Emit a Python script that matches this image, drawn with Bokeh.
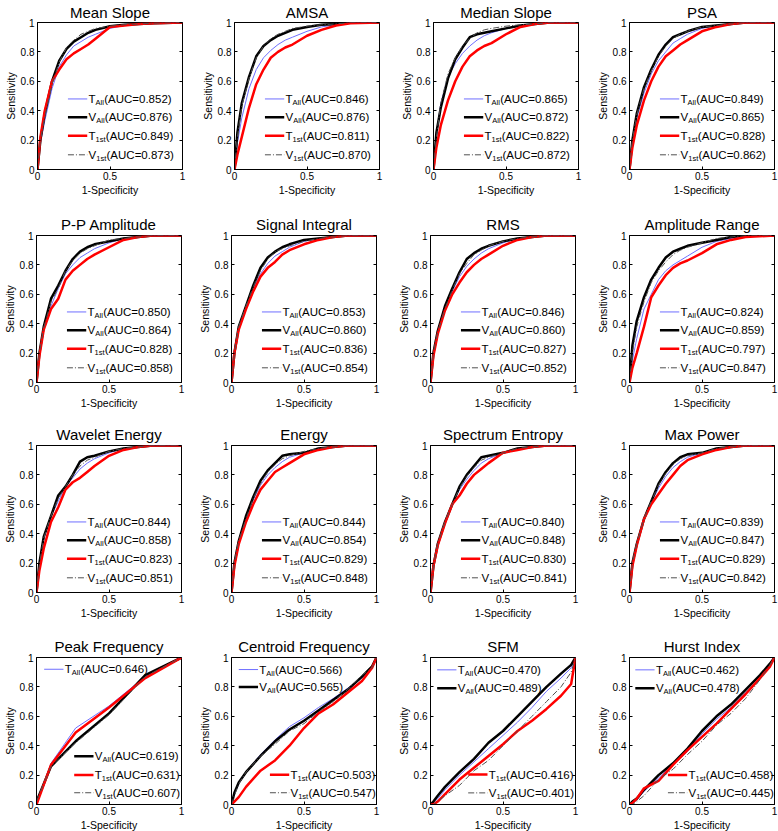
from bokeh.plotting import figure
from bokeh.layouts import row, column
from bokeh.models import (Range1d, FixedTicker, CustomJSTickFormatter, LinearAxis,
                          ColumnDataSource)
from bokeh.core.properties import value
from bokeh.embed import file_html
from bokeh.resources import INLINE

# ---------------- data ----------------
TITLES = ["Mean Slope", "AMSA", "Median Slope", "PSA",
          "P-P Amplitude", "Signal Integral", "RMS", "Amplitude Range",
          "Wavelet Energy", "Energy", "Spectrum Entropy", "Max Power",
          "Peak Frequency", "Centroid Frequency", "SFM", "Hurst Index"]

# 1-Specificity sample points
FPR_MAIN = [0, 0.02, 0.05, 0.1, 0.15, 0.2, 0.25, 0.3, 0.35, 0.4, 0.5, 0.6, 0.7, 0.8, 1.0]
FPR_PEAK = [0, 0.1, 0.27, 0.5, 0.75, 1.0]
FPR_LOW = [0, 0.02, 0.05, 0.1, 0.2, 0.3, 0.4, 0.5, 0.6, 0.7, 0.8, 0.9, 0.97, 1.0]

# Sensitivity values
mean_slope_t_all = [0, 0.18, 0.33, 0.55, 0.70, 0.78, 0.84, 0.87, 0.90, 0.92, 0.96, 0.98, 0.99, 0.995, 1]
mean_slope_v_all = [0, 0.20, 0.38, 0.60, 0.74, 0.82, 0.87, 0.90, 0.93, 0.95, 0.975, 0.985, 0.99, 0.995, 1]
mean_slope_t_1st = [0, 0.22, 0.40, 0.60, 0.68, 0.75, 0.79, 0.82, 0.85, 0.89, 0.97, 0.98, 0.99, 0.995, 1]
mean_slope_v_1st = [0, 0.20, 0.36, 0.58, 0.73, 0.83, 0.88, 0.92, 0.94, 0.96, 0.975, 0.985, 0.99, 0.995, 1]

amsa_t_all = [0, 0.18, 0.35, 0.55, 0.68, 0.76, 0.81, 0.85, 0.88, 0.90, 0.94, 0.97, 0.985, 1, 1]
amsa_v_all = [0, 0.25, 0.45, 0.63, 0.77, 0.84, 0.88, 0.91, 0.93, 0.95, 0.97, 0.985, 0.99, 1, 1]
amsa_t_1st = [0, 0.10, 0.22, 0.42, 0.58, 0.68, 0.76, 0.80, 0.83, 0.85, 0.91, 0.95, 0.98, 0.995, 1]
amsa_v_1st = [0, 0.22, 0.43, 0.62, 0.76, 0.84, 0.89, 0.92, 0.94, 0.96, 0.975, 0.985, 0.99, 1, 1]

median_slope_t_all = [0, 0.22, 0.45, 0.63, 0.72, 0.79, 0.84, 0.88, 0.91, 0.93, 0.96, 0.98, 0.99, 1, 1]
median_slope_v_all = [0, 0.25, 0.42, 0.62, 0.75, 0.83, 0.90, 0.92, 0.93, 0.94, 0.96, 0.98, 0.99, 1, 1]
median_slope_t_1st = [0, 0.15, 0.30, 0.47, 0.60, 0.70, 0.77, 0.81, 0.84, 0.86, 0.92, 0.97, 0.99, 1, 1]
median_slope_v_1st = [0, 0.22, 0.45, 0.65, 0.76, 0.84, 0.89, 0.93, 0.95, 0.96, 0.975, 0.985, 0.99, 1, 1]

psa_t_all = [0, 0.18, 0.35, 0.52, 0.65, 0.74, 0.80, 0.86, 0.89, 0.92, 0.96, 0.98, 0.99, 1, 1]
psa_v_all = [0, 0.20, 0.38, 0.56, 0.68, 0.78, 0.85, 0.90, 0.92, 0.94, 0.97, 0.98, 0.99, 1, 1]
psa_t_1st = [0, 0.15, 0.30, 0.47, 0.60, 0.70, 0.77, 0.81, 0.85, 0.88, 0.94, 0.97, 0.99, 1, 1]
psa_v_1st = [0, 0.20, 0.37, 0.55, 0.67, 0.77, 0.84, 0.89, 0.92, 0.94, 0.97, 0.98, 0.99, 1, 1]

pp_amplitude_t_all = [0, 0.18, 0.36, 0.52, 0.64, 0.74, 0.80, 0.85, 0.88, 0.91, 0.95, 0.98, 0.99, 1, 1]
pp_amplitude_v_all = [0, 0.20, 0.38, 0.57, 0.66, 0.76, 0.84, 0.89, 0.92, 0.94, 0.96, 0.98, 0.99, 1, 1]
pp_amplitude_t_1st = [0, 0.18, 0.36, 0.50, 0.57, 0.70, 0.76, 0.80, 0.84, 0.87, 0.92, 0.97, 0.99, 1, 1]
pp_amplitude_v_1st = [0, 0.20, 0.37, 0.55, 0.64, 0.76, 0.83, 0.88, 0.91, 0.93, 0.97, 0.98, 0.99, 1, 1]

signal_integral_t_all = [0, 0.22, 0.38, 0.52, 0.64, 0.74, 0.81, 0.86, 0.89, 0.92, 0.96, 0.98, 0.99, 1, 1]
signal_integral_v_all = [0, 0.20, 0.38, 0.52, 0.66, 0.78, 0.85, 0.89, 0.92, 0.94, 0.97, 0.98, 0.99, 1, 1]
signal_integral_t_1st = [0, 0.20, 0.36, 0.50, 0.62, 0.72, 0.78, 0.82, 0.87, 0.90, 0.94, 0.97, 0.99, 1, 1]
signal_integral_v_1st = [0, 0.20, 0.38, 0.52, 0.65, 0.76, 0.84, 0.89, 0.91, 0.93, 0.96, 0.98, 0.99, 1, 1]

rms_t_all = [0, 0.18, 0.33, 0.50, 0.62, 0.72, 0.79, 0.84, 0.88, 0.91, 0.95, 0.98, 0.99, 1, 1]
rms_v_all = [0, 0.20, 0.35, 0.52, 0.64, 0.75, 0.84, 0.88, 0.91, 0.93, 0.96, 0.98, 0.99, 1, 1]
rms_t_1st = [0, 0.18, 0.33, 0.49, 0.60, 0.68, 0.75, 0.80, 0.84, 0.87, 0.93, 0.97, 0.99, 1, 1]
rms_v_1st = [0, 0.20, 0.34, 0.50, 0.63, 0.74, 0.81, 0.87, 0.90, 0.93, 0.96, 0.98, 0.99, 1, 1]

amplitude_range_t_all = [0, 0.15, 0.30, 0.50, 0.60, 0.70, 0.76, 0.80, 0.83, 0.86, 0.92, 0.96, 0.98, 0.99, 1]
amplitude_range_v_all = [0, 0.25, 0.42, 0.58, 0.70, 0.78, 0.85, 0.89, 0.91, 0.93, 0.95, 0.97, 0.99, 1, 1]
amplitude_range_t_1st = [0, 0.10, 0.20, 0.38, 0.58, 0.66, 0.73, 0.78, 0.81, 0.83, 0.88, 0.94, 0.97, 0.99, 1]
amplitude_range_v_1st = [0, 0.20, 0.38, 0.55, 0.68, 0.76, 0.82, 0.87, 0.90, 0.92, 0.95, 0.98, 0.99, 1, 1]

wavelet_energy_t_all = [0, 0.18, 0.36, 0.52, 0.62, 0.72, 0.78, 0.84, 0.88, 0.91, 0.95, 0.98, 0.99, 1, 1]
wavelet_energy_v_all = [0, 0.20, 0.38, 0.52, 0.66, 0.72, 0.80, 0.89, 0.92, 0.93, 0.96, 0.98, 0.99, 1, 1]
wavelet_energy_t_1st = [0, 0.15, 0.30, 0.48, 0.58, 0.70, 0.75, 0.78, 0.82, 0.86, 0.93, 0.97, 0.99, 1, 1]
wavelet_energy_v_1st = [0, 0.19, 0.37, 0.52, 0.64, 0.72, 0.80, 0.86, 0.90, 0.92, 0.96, 0.98, 0.99, 1, 1]

energy_t_all = [0, 0.20, 0.35, 0.50, 0.63, 0.73, 0.80, 0.85, 0.89, 0.92, 0.95, 0.98, 0.99, 1, 1]
energy_v_all = [0, 0.20, 0.35, 0.52, 0.65, 0.76, 0.83, 0.88, 0.93, 0.94, 0.95, 0.98, 0.99, 1, 1]
energy_t_1st = [0, 0.18, 0.33, 0.48, 0.60, 0.70, 0.76, 0.82, 0.85, 0.88, 0.94, 0.97, 0.99, 1, 1]
energy_v_1st = [0, 0.20, 0.35, 0.50, 0.64, 0.74, 0.82, 0.87, 0.91, 0.93, 0.96, 0.98, 0.99, 1, 1]

spectrum_entropy_t_all = [0, 0.18, 0.33, 0.48, 0.60, 0.70, 0.77, 0.83, 0.88, 0.91, 0.95, 0.98, 0.99, 1, 1]
spectrum_entropy_v_all = [0, 0.18, 0.33, 0.48, 0.60, 0.72, 0.80, 0.86, 0.92, 0.93, 0.95, 0.98, 0.99, 1, 1]
spectrum_entropy_t_1st = [0, 0.18, 0.32, 0.47, 0.60, 0.66, 0.74, 0.80, 0.84, 0.88, 0.95, 0.97, 0.99, 1, 1]
spectrum_entropy_v_1st = [0, 0.18, 0.33, 0.48, 0.60, 0.71, 0.79, 0.85, 0.90, 0.92, 0.95, 0.98, 0.99, 1, 1]

max_power_t_all = [0, 0.18, 0.33, 0.50, 0.61, 0.71, 0.79, 0.85, 0.89, 0.92, 0.95, 0.98, 0.99, 1, 1]
max_power_v_all = [0, 0.20, 0.33, 0.50, 0.62, 0.74, 0.82, 0.88, 0.92, 0.94, 0.95, 0.98, 0.99, 1, 1]
max_power_t_1st = [0, 0.18, 0.32, 0.50, 0.60, 0.67, 0.74, 0.80, 0.86, 0.90, 0.94, 0.97, 0.99, 1, 1]
max_power_v_1st = [0, 0.20, 0.33, 0.50, 0.62, 0.73, 0.81, 0.87, 0.91, 0.93, 0.95, 0.98, 0.99, 1, 1]

peak_frequency_t_all = [0, 0.28, 0.52, 0.67, 0.87, 1]
peak_frequency_v_all = [0.02, 0.26, 0.43, 0.62, 0.88, 1]
peak_frequency_t_1st = [0, 0.27, 0.49, 0.66, 0.86, 1]
peak_frequency_v_1st = [0.02, 0.26, 0.42, 0.61, 0.87, 1]

centroid_frequency_t_all = [0, 0.07, 0.14, 0.22, 0.34, 0.44, 0.53, 0.59, 0.66, 0.72, 0.79, 0.86, 0.94, 1]
centroid_frequency_v_all = [0, 0.08, 0.15, 0.22, 0.33, 0.43, 0.51, 0.57, 0.64, 0.71, 0.78, 0.87, 0.94, 1]
centroid_frequency_t_1st = [0, 0.02, 0.05, 0.12, 0.23, 0.30, 0.40, 0.52, 0.62, 0.68, 0.76, 0.84, 0.93, 1]
centroid_frequency_v_1st = [0, 0.06, 0.14, 0.22, 0.33, 0.41, 0.50, 0.55, 0.63, 0.70, 0.78, 0.88, 0.93, 1]

sfm_t_all = [0, 0.01, 0.04, 0.10, 0.20, 0.29, 0.38, 0.47, 0.56, 0.66, 0.77, 0.86, 0.93, 1]
sfm_v_all = [0, 0.02, 0.06, 0.12, 0.22, 0.31, 0.42, 0.50, 0.60, 0.70, 0.80, 0.89, 0.95, 1]
sfm_t_1st = [0, 0.00, 0.02, 0.07, 0.17, 0.25, 0.33, 0.41, 0.50, 0.57, 0.65, 0.74, 0.82, 1]
sfm_v_1st = [0, 0.00, 0.02, 0.06, 0.13, 0.23, 0.30, 0.40, 0.50, 0.60, 0.70, 0.80, 0.90, 1]

hurst_index_t_all = [0, 0.01, 0.03, 0.09, 0.18, 0.27, 0.36, 0.48, 0.58, 0.66, 0.76, 0.86, 0.95, 1]
hurst_index_v_all = [0, 0.02, 0.04, 0.10, 0.20, 0.28, 0.38, 0.50, 0.60, 0.68, 0.78, 0.88, 0.96, 1]
hurst_index_t_1st = [0, 0.01, 0.04, 0.11, 0.16, 0.27, 0.37, 0.46, 0.55, 0.65, 0.75, 0.86, 0.94, 1]
hurst_index_v_1st = [0, 0.00, 0.02, 0.06, 0.17, 0.24, 0.34, 0.43, 0.54, 0.62, 0.72, 0.85, 0.95, 1]

AUC_T_ALL = ["0.852", "0.846", "0.865", "0.849", "0.850", "0.853", "0.846", "0.824",
             "0.844", "0.844", "0.840", "0.839", "0.646", "0.566", "0.470", "0.462"]
AUC_V_ALL = ["0.876", "0.876", "0.872", "0.865", "0.864", "0.860", "0.860", "0.859",
             "0.858", "0.854", "0.848", "0.847", "0.619", "0.565", "0.489", "0.478"]
AUC_T_1ST = ["0.849", "0.811", "0.822", "0.828", "0.828", "0.836", "0.827", "0.797",
             "0.823", "0.829", "0.830", "0.829", "0.631", "0.503", "0.416", "0.458"]
AUC_V_1ST = ["0.873", "0.870", "0.872", "0.862", "0.858", "0.854", "0.852", "0.847",
             "0.851", "0.848", "0.841", "0.842", "0.607", "0.547", "0.401", "0.445"]

X_TICKS = [0, 0.5, 1]
Y_TICKS = [0, 0.2, 0.4, 0.6, 0.8, 1]

CURVES = [
    (FPR_MAIN, mean_slope_t_all, mean_slope_v_all, mean_slope_t_1st, mean_slope_v_1st),
    (FPR_MAIN, amsa_t_all, amsa_v_all, amsa_t_1st, amsa_v_1st),
    (FPR_MAIN, median_slope_t_all, median_slope_v_all, median_slope_t_1st, median_slope_v_1st),
    (FPR_MAIN, psa_t_all, psa_v_all, psa_t_1st, psa_v_1st),
    (FPR_MAIN, pp_amplitude_t_all, pp_amplitude_v_all, pp_amplitude_t_1st, pp_amplitude_v_1st),
    (FPR_MAIN, signal_integral_t_all, signal_integral_v_all, signal_integral_t_1st, signal_integral_v_1st),
    (FPR_MAIN, rms_t_all, rms_v_all, rms_t_1st, rms_v_1st),
    (FPR_MAIN, amplitude_range_t_all, amplitude_range_v_all, amplitude_range_t_1st, amplitude_range_v_1st),
    (FPR_MAIN, wavelet_energy_t_all, wavelet_energy_v_all, wavelet_energy_t_1st, wavelet_energy_v_1st),
    (FPR_MAIN, energy_t_all, energy_v_all, energy_t_1st, energy_v_1st),
    (FPR_MAIN, spectrum_entropy_t_all, spectrum_entropy_v_all, spectrum_entropy_t_1st, spectrum_entropy_v_1st),
    (FPR_MAIN, max_power_t_all, max_power_v_all, max_power_t_1st, max_power_v_1st),
    (FPR_PEAK, peak_frequency_t_all, peak_frequency_v_all, peak_frequency_t_1st, peak_frequency_v_1st),
    (FPR_LOW, centroid_frequency_t_all, centroid_frequency_v_all, centroid_frequency_t_1st, centroid_frequency_v_1st),
    (FPR_LOW, sfm_t_all, sfm_v_all, sfm_t_1st, sfm_v_1st),
    (FPR_LOW, hurst_index_t_all, hurst_index_v_all, hurst_index_t_1st, hurst_index_v_1st),
]

# ---------------- layout / style ----------------
FONT = "Liberation Sans"
SER_LETTER = ["T", "V", "T", "V"]
SER_SUB = ["All", "All", "1st", "1st"]
SER_COLOR = ["#6f6fff", "black", "#ff0000", "#505050"]
SER_WIDTH = [1, 2.5, 2.5, 1]
SER_DASH = ["solid", "solid", "solid", "6 2 1 2"]
LETTER_EM = {"T": 0.611, "V": 0.667}
SUB_EM = {"All": 1.111, "1st": 1.334}
MAIN_PX = 11.5
SUB_PX = 7.5

LEG_STD = [(0.21, 0.48), (0.21, 0.355), (0.21, 0.23), (0.21, 0.10)]
LEG_POS = [LEG_STD] * 12 + [
    [(0.053, 0.92), (0.26, 0.328), (0.26, 0.20), (0.26, 0.08)],
    [(0.05, 0.918), (0.05, 0.80), (0.265, 0.202), (0.265, 0.08)],
    [(0.046, 0.916), (0.046, 0.79), (0.26, 0.204), (0.26, 0.079)],
    [(0.04, 0.916), (0.04, 0.79), (0.265, 0.20), (0.265, 0.08)],
]
LEG_LEN = 0.133
LEG_GAP = 0.142

# frame size and borders (pixels); rows sum to 778 wide, columns to 831 tall
FRAME_W, FRAME_H = 145, 147
BORDER_L = [[37, 36, 36, 36]] + [[36, 36, 36, 36]] * 3
BORDER_R = [[16, 18, 15, 4]] + [[14, 18, 18, 4]] * 3
BORDER_T = [22, 24, 24, 24]
BORDER_B = [42, 39, 41, 27]
TITLE_STANDOFF = [3, 5, 5, 5]


def style_axis(ax):
    ax.major_tick_in = 3
    ax.major_tick_out = 0
    ax.minor_tick_line_color = None
    ax.major_tick_line_color = "black"
    ax.major_label_text_font = FONT
    ax.major_label_text_font_size = "10px"
    ax.major_label_text_color = "black"
    ax.axis_label_text_font = FONT
    ax.axis_label_text_font_size = "10.5px"
    ax.axis_label_text_font_style = "normal"
    ax.axis_label_text_color = "black"


def build(i):
    r, c = divmod(i, 4)
    p = figure(frame_width=FRAME_W, frame_height=FRAME_H,
               x_range=Range1d(0, 1), y_range=Range1d(0, 1),
               output_backend="svg", toolbar_location=None,
               min_border_left=BORDER_L[r][c], min_border_right=BORDER_R[r][c],
               min_border_top=BORDER_T[r], min_border_bottom=BORDER_B[r],
               background_fill_color="white", border_fill_color="white")
    p.grid.visible = False
    p.outline_line_color = "black"
    p.outline_line_width = 1

    p.title.text = TITLES[i]
    p.title.align = "center"
    p.title.text_font = FONT
    p.title.text_font_size = "15px"
    p.title.text_font_style = "normal"
    p.title.text_color = "black"
    p.title.standoff = TITLE_STANDOFF[r]

    fmt = CustomJSTickFormatter(code="return String(Math.round(tick * 10) / 10);")
    p.xaxis.ticker = FixedTicker(ticks=X_TICKS)
    p.yaxis.ticker = FixedTicker(ticks=Y_TICKS)
    p.xaxis.formatter = fmt
    p.yaxis.formatter = fmt
    for ax in (p.xaxis[0], p.yaxis[0]):
        style_axis(ax)
        ax.axis_line_color = "black"
    p.xaxis.axis_label = "1-Specificity"
    p.yaxis.axis_label = "Sensitivity"
    p.xaxis.major_label_standoff = 2
    p.xaxis.axis_label_standoff = 1
    p.yaxis.major_label_standoff = 3
    p.yaxis.axis_label_standoff = 1

    # tick marks on the right edge (MATLAB box style), no labels
    ra = LinearAxis(ticker=FixedTicker(ticks=Y_TICKS),
                    formatter=CustomJSTickFormatter(code="return '';"),
                    axis_line_color=None, major_label_standoff=0)
    style_axis(ra)
    ra.major_label_text_font_size = "0px"
    p.add_layout(ra, "right")

    fpr = CURVES[i][0]
    for k in range(4):
        p.line(fpr, CURVES[i][k + 1], line_color=SER_COLOR[k], line_width=SER_WIDTH[k],
               line_dash=SER_DASH[k])

    # legend (with subscripts)
    aucs = [AUC_T_ALL[i], AUC_V_ALL[i], AUC_T_1ST[i], AUC_V_1ST[i]]
    pos = LEG_POS[i]
    lx0 = [q[0] for q in pos]
    ly = [q[1] for q in pos]
    for k in range(4):
        p.line([lx0[k], lx0[k] + LEG_LEN], [ly[k], ly[k]], line_color=SER_COLOR[k],
               line_width=SER_WIDTH[k], line_dash=SER_DASH[k])
    tx = [x + LEG_GAP for x in lx0]
    lw = [LETTER_EM[s] * MAIN_PX for s in SER_LETTER]
    sw = [SUB_EM[s] * SUB_PX for s in SER_SUB]
    src = ColumnDataSource(dict(
        x=tx, y=ly, letter=SER_LETTER, sub=SER_SUB,
        rest=["(AUC=%s)" % a for a in aucs],
        off_sub=lw, off_rest=[a + b + 0.3 for a, b in zip(lw, sw)]))
    p.text(x="x", y="y", text="letter", source=src, text_font=value(FONT),
           text_font_size=value("%gpx" % MAIN_PX), text_baseline="middle", text_align="left",
           text_color="black")
    p.text(x="x", y="y", text="sub", source=src, x_offset="off_sub", y_offset=-1,
           text_font=value(FONT),
           text_font_size=value("%gpx" % SUB_PX), text_baseline="top", text_align="left",
           text_color="black")
    p.text(x="x", y="y", text="rest", source=src, x_offset="off_rest", text_font=value(FONT),
           text_font_size=value("%gpx" % MAIN_PX), text_baseline="middle", text_align="left",
           text_color="black")
    return p


figs = [build(i) for i in range(16)]
layout = column(*[row(*figs[r * 4:(r + 1) * 4], spacing=0) for r in range(4)], spacing=0)

with open("out.html", "w") as f:
    f.write(file_html(layout, INLINE))
